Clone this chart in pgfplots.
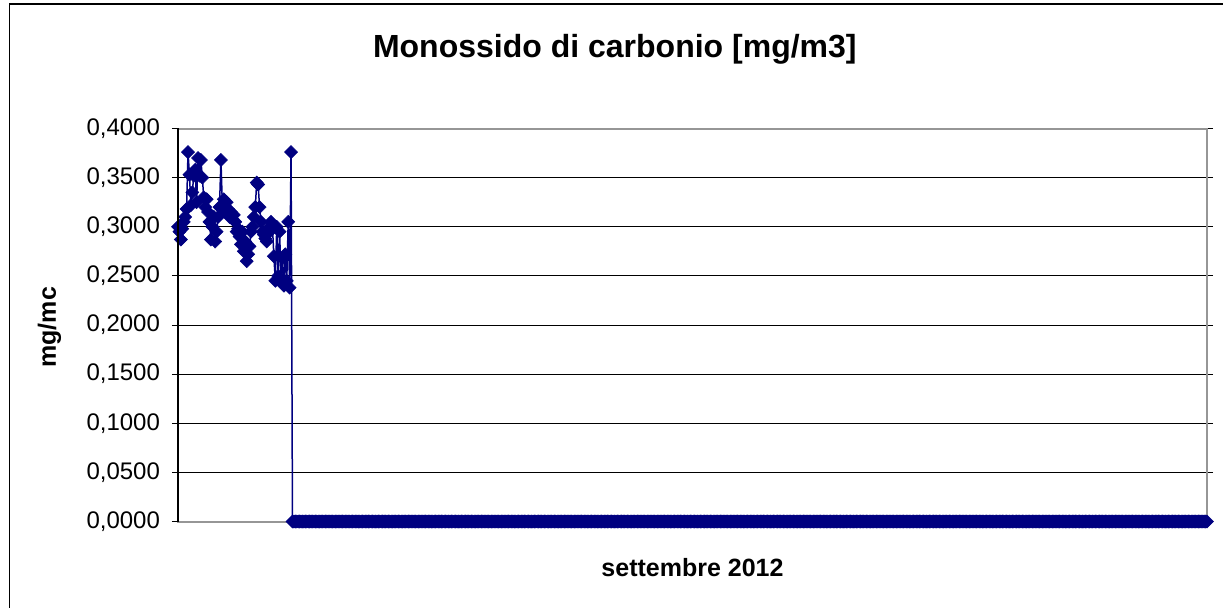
\documentclass[border=0pt]{standalone}
\usepackage{pgfplots}
\pgfplotsset{compat=1.18}
\usepackage{pgfplotstable}
\usepackage{fontspec}
\setmainfont{Liberation Sans}
\definecolor{navy}{RGB}{0,0,128}
\definecolor{bordergray}{RGB}{150,150,150}
\pgfplotstableread[row sep=\\]{
y\\
0.300\\0.295\\0.287\\0.298\\0.305\\0.310\\0.318\\0.376\\0.353\\0.322\\
0.335\\0.352\\0.358\\0.325\\0.370\\0.352\\0.368\\0.350\\0.330\\0.320\\
0.328\\0.315\\0.305\\0.287\\0.300\\0.310\\0.285\\0.295\\0.310\\0.320\\
0.368\\0.322\\0.328\\0.315\\0.325\\0.318\\0.310\\0.315\\0.308\\0.312\\
0.305\\0.295\\0.298\\0.290\\0.282\\0.295\\0.275\\0.285\\0.265\\0.272\\
0.280\\0.295\\0.300\\0.310\\0.320\\0.345\\0.343\\0.320\\0.305\\0.295\\
0.292\\0.288\\0.285\\0.298\\0.295\\0.305\\0.300\\0.270\\0.245\\0.300\\
0.250\\0.295\\0.245\\0.268\\0.240\\0.272\\0.245\\0.305\\0.238\\0.376\\
0\\0\\0\\0\\0\\0\\0\\0\\0\\0\\0\\0\\0\\0\\0\\0\\0\\0\\0\\0\\0\\0\\0\\0\\0\\0\\0\\0\\0\\0\\0\\0\\0\\0\\0\\0\\0\\0\\0\\0\\
0\\0\\0\\0\\0\\0\\0\\0\\0\\0\\0\\0\\0\\0\\0\\0\\0\\0\\0\\0\\0\\0\\0\\0\\0\\0\\0\\0\\0\\0\\0\\0\\0\\0\\0\\0\\0\\0\\0\\0\\
0\\0\\0\\0\\0\\0\\0\\0\\0\\0\\0\\0\\0\\0\\0\\0\\0\\0\\0\\0\\0\\0\\0\\0\\0\\0\\0\\0\\0\\0\\0\\0\\0\\0\\0\\0\\0\\0\\0\\0\\
0\\0\\0\\0\\0\\0\\0\\0\\0\\0\\0\\0\\0\\0\\0\\0\\0\\0\\0\\0\\0\\0\\0\\0\\0\\0\\0\\0\\0\\0\\0\\0\\0\\0\\0\\0\\0\\0\\0\\0\\
0\\0\\0\\0\\0\\0\\0\\0\\0\\0\\0\\0\\0\\0\\0\\0\\0\\0\\0\\0\\0\\0\\0\\0\\0\\0\\0\\0\\0\\0\\0\\0\\0\\0\\0\\0\\0\\0\\0\\0\\
0\\0\\0\\0\\0\\0\\0\\0\\0\\0\\0\\0\\0\\0\\0\\0\\0\\0\\0\\0\\0\\0\\0\\0\\0\\0\\0\\0\\0\\0\\0\\0\\0\\0\\0\\0\\0\\0\\0\\0\\
0\\0\\0\\0\\0\\0\\0\\0\\0\\0\\0\\0\\0\\0\\0\\0\\0\\0\\0\\0\\0\\0\\0\\0\\0\\0\\0\\0\\0\\0\\0\\0\\0\\0\\0\\0\\0\\0\\0\\0\\
0\\0\\0\\0\\0\\0\\0\\0\\0\\0\\0\\0\\0\\0\\0\\0\\0\\0\\0\\0\\0\\0\\0\\0\\0\\0\\0\\0\\0\\0\\0\\0\\0\\0\\0\\0\\0\\0\\0\\0\\
0\\0\\0\\0\\0\\0\\0\\0\\0\\0\\0\\0\\0\\0\\0\\0\\0\\0\\0\\0\\0\\0\\0\\0\\0\\0\\0\\0\\0\\0\\0\\0\\0\\0\\0\\0\\0\\0\\0\\0\\
0\\0\\0\\0\\0\\0\\0\\0\\0\\0\\0\\0\\0\\0\\0\\0\\0\\0\\0\\0\\0\\0\\0\\0\\0\\0\\0\\0\\0\\0\\0\\0\\0\\0\\0\\0\\0\\0\\0\\0\\
0\\0\\0\\0\\0\\0\\0\\0\\0\\0\\0\\0\\0\\0\\0\\0\\0\\0\\0\\0\\0\\0\\0\\0\\0\\0\\0\\0\\0\\0\\0\\0\\0\\0\\0\\0\\0\\0\\0\\0\\
0\\0\\0\\0\\0\\0\\0\\0\\0\\0\\0\\0\\0\\0\\0\\0\\0\\0\\0\\0\\0\\0\\0\\0\\0\\0\\0\\0\\0\\0\\0\\0\\0\\0\\0\\0\\0\\0\\0\\0\\
0\\0\\0\\0\\0\\0\\0\\0\\0\\0\\0\\0\\0\\0\\0\\0\\0\\0\\0\\0\\0\\0\\0\\0\\0\\0\\0\\0\\0\\0\\0\\0\\0\\0\\0\\0\\0\\0\\0\\0\\
0\\0\\0\\0\\0\\0\\0\\0\\0\\0\\0\\0\\0\\0\\0\\0\\0\\0\\0\\0\\0\\0\\0\\0\\0\\0\\0\\0\\0\\0\\0\\0\\0\\0\\0\\0\\0\\0\\0\\0\\
0\\0\\0\\0\\0\\0\\0\\0\\0\\0\\0\\0\\0\\0\\0\\0\\0\\0\\0\\0\\0\\0\\0\\0\\0\\0\\0\\0\\0\\0\\0\\0\\0\\0\\0\\0\\0\\0\\0\\0\\
0\\0\\0\\0\\0\\0\\0\\0\\0\\0\\0\\0\\0\\0\\0\\0\\0\\0\\0\\0\\0\\0\\0\\0\\0\\0\\0\\0\\0\\0\\0\\0\\0\\0\\0\\0\\0\\0\\0\\0\\
0\\0\\0\\0\\0\\0\\0\\0\\0\\0\\0\\0\\0\\0\\0\\0\\0\\0\\0\\0\\0\\0\\0\\0\\0\\0\\0\\0\\0\\0\\0\\0\\0\\0\\0\\0\\0\\0\\0\\0\\
}\codata
\begin{document}
\begin{tikzpicture}
\useasboundingbox (0,0) rectangle (611.5pt,-303.5pt);
\draw[line width=0.8pt] (4.7pt,-2pt) rectangle (620pt,-320pt);
\begin{axis}[
  at={(89pt,-260.75pt)}, anchor=south west,
  scale only axis, width=514.5pt, height=196.5pt,
  xmin=0, xmax=719, ymin=0, ymax=0.4,
  restrict x to domain=0:719,
  xtick=\empty,
  ytick={0,0.05,...,0.4},
  ymajorgrids, grid style={black, line width=0.5pt},
  tick align=outside, major tick length=3pt,
  ytick style={black, line width=0.5pt},
  axis line style={bordergray, line width=1pt},
  clip=false,
  yticklabel style={font=\fontsize{12}{14}\selectfont, xshift=-2.5pt},
  /pgf/number format/.cd, fixed, fixed zerofill, precision=4, use comma, assume math mode=true,
  /pgfplots/.cd,
  title={Monossido di carbonio [mg/m3]},
  title style={at={(0.4245,1.170)}, anchor=center, font=\bfseries\fontsize{16}{18}\selectfont},
  xlabel={settembre 2012},
  xlabel style={at={(0.5,-0.118)}, anchor=center, font=\bfseries\fontsize{12.5}{14}\selectfont},
  ylabel={mg/mc},
  ylabel style={at={(-0.125,0.494)}, anchor=center, font=\bfseries\fontsize{12.5}{14}\selectfont},
]
\addplot[navy, line width=0.75pt, mark=square*, mark size=2.3pt,
  mark options={rotate=45, fill=navy, draw=navy, line width=0.3pt}]
  table[x expr=\coordindex, y=y] {\codata};
\end{axis}
\draw[black, line width=0.8pt] (89pt,-64pt) -- (89pt,-261pt);
\end{tikzpicture}
\end{document}
